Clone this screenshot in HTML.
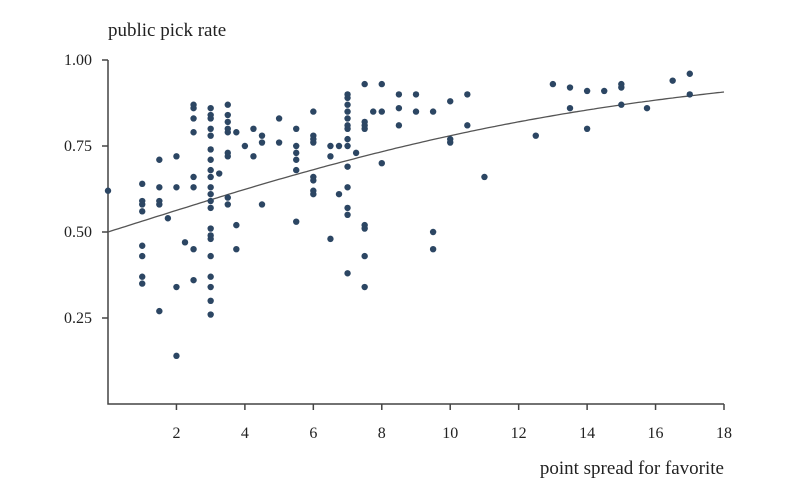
<!DOCTYPE html>
<html><head><meta charset="utf-8"><style>
body{margin:0;background:#fff}
svg{display:block;font-family:"Liberation Serif",serif}
</style></head><body>
<svg id="chart" width="800" height="500">
<text x="108" y="36" font-size="19" fill="#222">public pick rate</text>
<text x="724" y="474" font-size="19" fill="#222" text-anchor="end">point spread for favorite</text>
<g id="axes"></g><g id="fit"></g><g id="pts"></g>
</svg>
<script>
const xTicks=[2,4,6,8,10,12,14,16,18];
const yTicks=[0.25,0.5,0.75,1.0];
const yTickLabels=["0.25","0.50","0.75","1.00"];
const spreads=[0,1,1,1,1,1,1,1,1,1.5,1.5,1.5,1.5,1.5,1.75,2,2,2,2,2.25,2.5,2.5,2.5,2.5,2.5,2.5,2.5,2.5,
3,3,3,3,3,3,3,3,3,3,3,3,3,3,3,3,3,3,3,3,3,3.25,3.5,3.5,3.5,3.5,3.5,3.5,3.5,3.5,3.5,3.75,3.75,3.75,4,4.25,4.25,4.5,4.5,4.5,5,5,
5.5,5.5,5.5,5.5,5.5,5.5,6,6,6,6,6,6,6,6,6.5,6.5,6.5,6.75,6.75,
7,7,7,7,7,7,7,7,7,7,7,7,7,7,7.25,7.5,7.5,7.5,7.5,7.5,7.5,7.5,7.5,7.75,8,8,8,8.5,8.5,8.5,9,9,9.5,9.5,9.5,10,10,10,10.5,10.5,11,12.5,13,13.5,13.5,14,14,14.5,15,15,15,15.75,16.5,17,17];
const pickRates=[0.62,0.64,0.59,0.58,0.56,0.46,0.43,0.37,0.35,0.71,0.63,0.59,0.58,0.27,0.54,0.72,0.63,0.34,0.14,0.47,0.87,0.86,0.83,0.79,0.66,0.63,0.45,0.36,
0.86,0.84,0.83,0.80,0.78,0.74,0.71,0.68,0.66,0.63,0.61,0.59,0.57,0.51,0.49,0.48,0.43,0.37,0.34,0.30,0.26,0.67,0.87,0.84,0.82,0.80,0.79,0.73,0.72,0.60,0.58,0.79,0.52,0.45,0.75,0.80,0.72,0.78,0.76,0.58,0.83,0.76,
0.80,0.75,0.73,0.71,0.68,0.53,0.85,0.78,0.77,0.76,0.66,0.65,0.62,0.61,0.75,0.72,0.48,0.75,0.61,
0.90,0.89,0.87,0.85,0.83,0.81,0.80,0.77,0.75,0.69,0.63,0.57,0.55,0.38,0.73,0.93,0.82,0.81,0.80,0.52,0.51,0.43,0.34,0.85,0.93,0.85,0.70,0.90,0.86,0.81,0.90,0.85,0.85,0.50,0.45,0.88,0.77,0.76,0.90,0.81,0.66,0.78,0.93,0.92,0.86,0.91,0.80,0.91,0.93,0.92,0.87,0.86,0.94,0.96,0.90];
const fitSlope=[0.1265];
const NS='http://www.w3.org/2000/svg';
const X=v=>108+v*(616/18), Y=v=>404-v*344;
function mk(t,a,p){const e=document.createElementNS(NS,t);for(const k in a)e.setAttribute(k,a[k]);p.appendChild(e);return e;}
const ax=document.getElementById('axes');
let l=mk('path',{d:`M108,60V404H724`,fill:'none',stroke:'#444','stroke-width':1.5},ax);


xTicks.forEach(t=>{
 const k=mk('line',{x1:X(t),x2:X(t),y1:404,y2:410,stroke:'#444','stroke-width':1.5},ax);
 
 
 const tx=mk('text',{x:X(t),y:438,'font-size':16,'text-anchor':'middle',fill:'#222'},ax);tx.textContent=t;
 
 
});
yTicks.forEach((t,i)=>{
 const k=mk('line',{x1:102,x2:108,y1:Y(t),y2:Y(t),stroke:'#444','stroke-width':1.5},ax);
 
 
 const tx=mk('text',{x:92,y:Y(t)+5,'font-size':16,'text-anchor':'end',fill:'#222'},ax);tx.textContent=yTickLabels[i];
 
 
});
let d='';for(let s=0;s<=180;s++){const x=s/10;const p=1/(1+Math.exp(-fitSlope[0]*x));d+=(s?'L':'M')+X(x).toFixed(1)+','+Y(p).toFixed(1);}
const f=mk('path',{d:d,fill:'none',stroke:'#555','stroke-width':1.3},document.getElementById('fit'));


const pg=document.getElementById('pts');
spreads.forEach((s,i)=>{
 const c=mk('circle',{cx:X(s),cy:Y(pickRates[i]),r:3.2,fill:'#2c4663'},pg);
 
 
});
</script>
</body></html>
